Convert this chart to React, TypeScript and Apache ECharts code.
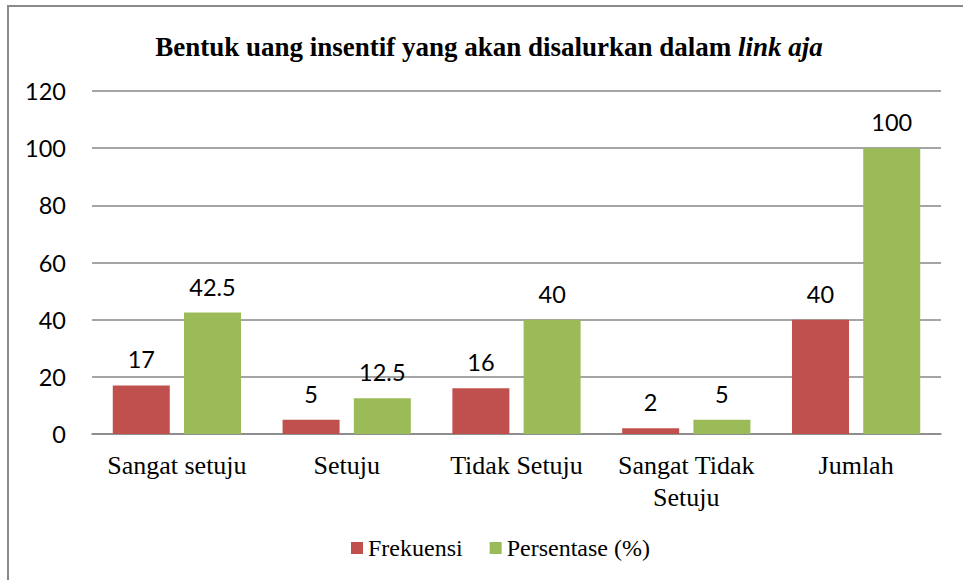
import React, { useEffect, useRef } from "react";
import * as echarts from "echarts";

const categories = ["Sangat setuju", "Setuju", "Tidak Setuju", "Sangat Tidak\nSetuju", "Jumlah"];
const frekuensi = [17, 5, 16, 2, 40];
const persentase = [42.5, 12.5, 40, 5, 100];
const seriesNames = ["Frekuensi", "Persentase (%)"];
const yTicks = { min: 0, max: 120, interval: 20 };

export default function App() {
  const ref = useRef<HTMLDivElement>(null);
  useEffect(() => {
    if (!ref.current) return;
    const chart = echarts.init(ref.current, null, { renderer: "svg" });
    const labelFont = { fontFamily: "Lato", fontSize: 23.5, color: "#000" };
    chart.setOption({
      animation: false,
      backgroundColor: "#fff",
      title: {
        text: "{b|Bentuk uang insentif yang akan disalurkan dalam }{i|link aja}",
        left: 484,
        textAlign: "center",
        top: 28,
        textStyle: {
          rich: {
            b: { fontFamily: "Liberation Serif", fontWeight: "bold", fontSize: 27, color: "#000" },
            i: { fontFamily: "Liberation Serif", fontWeight: "bold", fontStyle: "italic", fontSize: 27, color: "#000" },
          },
        },
      },
      graphic: [
        {
          type: "rect",
          shape: { x: 8, y: 6, width: 1000, height: 1000 },
          style: { fill: "none", stroke: "#8a8a8a", lineWidth: 2 },
          silent: true,
        },
      ],
      legend: {
        bottom: 15,
        left: 346,
        itemWidth: 12,
        itemHeight: 12,
        itemGap: 27,
        icon: "rect",
        textStyle: { fontFamily: "Liberation Serif", fontSize: 24, color: "#000" },
        data: seriesNames,
      },
      grid: { left: 92, right: 22, top: 91, bottom: 146 },
      xAxis: {
        type: "category",
        data: categories,
        axisLine: { lineStyle: { color: "#878787", width: 1.5 } },
        axisTick: { show: false },
        axisLabel: {
          fontFamily: "Liberation Serif",
          fontSize: 26,
          color: "#000",
          margin: 15,
          lineHeight: 32,
          interval: 0,
        },
      },
      yAxis: {
        type: "value",
        min: yTicks.min,
        max: yTicks.max,
        interval: yTicks.interval,
        axisLine: { show: false },
        axisTick: { show: false },
        splitLine: { lineStyle: { color: "#878787", width: 1.5 } },
        axisLabel: { ...labelFont, margin: 26 },
      },
      series: [
        {
          name: seriesNames[0],
          type: "bar",
          data: frekuensi,
          barWidth: 57,
          barGap: "25%",
          itemStyle: { color: "#C0504D" },
          label: { show: true, position: "top", distance: 14, ...labelFont },
        },
        {
          name: seriesNames[1],
          type: "bar",
          data: persentase,
          barWidth: 57,
          itemStyle: { color: "#9BBB59" },
          label: { show: true, position: "top", distance: 14, ...labelFont },
        },
      ],
    });
    return () => chart.dispose();
  }, []);
  return (
    <div
      ref={ref}
      style={{ position: "absolute", left: 0, top: 0, width: 963, height: 580 }}
    />
  );
}
